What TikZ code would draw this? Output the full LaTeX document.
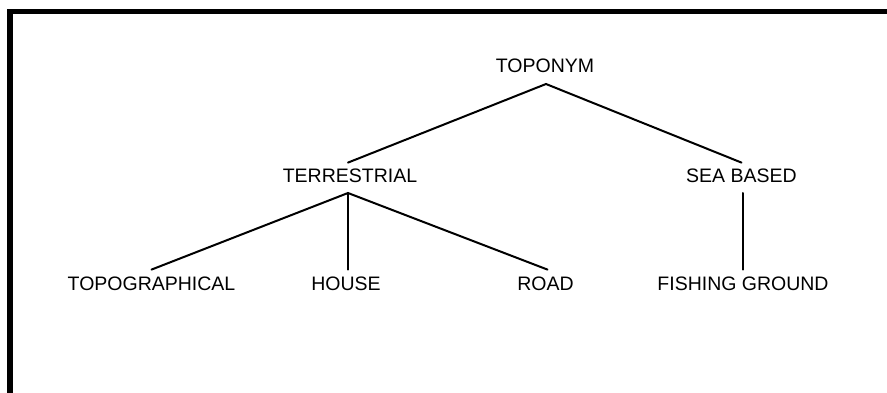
\documentclass[tikz,border=0pt]{standalone}
\usepackage{fontspec}
\setmainfont{Liberation Sans}
\begin{document}
\begin{tikzpicture}[x=1pt,y=-1pt,
  lbl/.style={font=\fontsize{19.5}{22}\selectfont, text height=14pt, text depth=0pt, inner sep=0pt, anchor=south},
  conn/.style={line width=2pt, line cap=round}]
\useasboundingbox (0,0) rectangle (887,393);
\fill[white] (0,0) rectangle (887,393);
\draw[line width=5.5pt, line join=miter] (10,393) -- (10,11.5) -- (887,11.5);
\node[lbl] (toponym) at (545,73) {TOPONYM};
\node[lbl] (terr) at (350,183) {TERRESTRIAL};
\node[lbl] (sea) at (741.5,183) {SEA BASED};
\node[lbl] (topo) at (151.5,291) {TOPOGRAPHICAL};
\node[lbl] (house) at (346,291) {HOUSE};
\node[lbl] (road) at (545.5,291) {ROAD};
\node[lbl] (fish) at (743,291) {FISHING GROUND};
\coordinate (a) at ([xshift=1pt,yshift=-11pt]toponym.south);
\coordinate (b) at ([xshift=-2pt,yshift=-10pt]terr.south);
\draw[conn] ([xshift=-2pt,yshift=6pt]terr.north) -- (a) -- ([yshift=6pt]sea.north);
\draw[conn] ([yshift=7pt]topo.north) -- (b) -- ([xshift=2pt,yshift=7pt]road.north);
\draw[conn] (b) -- ([xshift=2pt,yshift=7pt]house.north);
\draw[conn] ([xshift=1.5pt,yshift=-10pt]sea.south) -- ([yshift=7pt]fish.north);
\end{tikzpicture}
\end{document}
